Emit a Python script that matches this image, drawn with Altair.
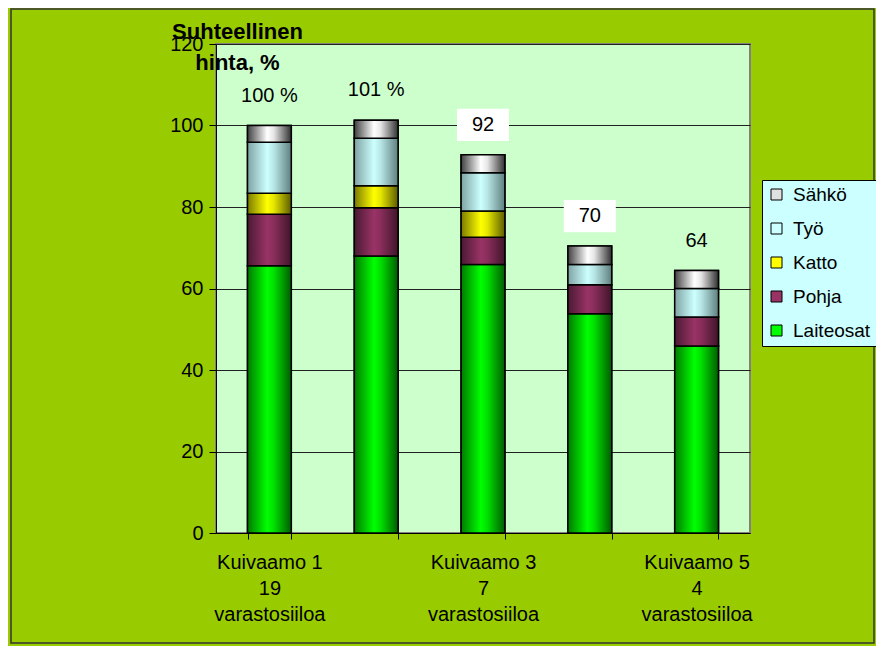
import altair as alt
import pandas as pd

# ---------------- data ----------------
categories = ["Kuivaamo 1", "Kuivaamo 2", "Kuivaamo 3", "Kuivaamo 4", "Kuivaamo 5"]
silo_counts = ["19", "", "7", "", "4"]
shown_labels = [True, False, True, False, True]
series = ["Laiteosat", "Pohja", "Katto", "Työ", "Sähkö"]
laiteosat = [65.6, 68.0, 65.9, 53.8, 45.9]
pohja = [12.6, 11.8, 6.7, 7.1, 7.1]
katto = [5.2, 5.4, 6.4, 0.0, 0.0]
tyo = [12.5, 11.7, 9.4, 5.0, 7.0]
sahko = [4.1, 4.4, 4.4, 4.5, 4.4]
total_labels = ["100 %", "101 %", "92", "70", "64"]
boxed = [False, False, True, True, False]
y_ticks = [0, 20, 40, 60, 80, 100, 120]

legend_order = ["Sähkö", "Työ", "Katto", "Pohja", "Laiteosat"]
flat_colors = {"Laiteosat": "#00ff00", "Pohja": "#993366", "Katto": "#ffff00",
               "Työ": "#ccffff", "Sähkö": "#e0e0e0"}
grad_stops = {
    "Laiteosat": ["#007a00", "#00ff00", "#00e000", "#005c00"],
    "Pohja": ["#4a1a33", "#993366", "#8a2e5c", "#3f1529"],
    "Katto": ["#7a7a00", "#ffff00", "#e6e600", "#5c5c00"],
    "Työ": ["#7fa3a3", "#ccffff", "#b8e6e6", "#5f7f7f"],
    "Sähkö": ["#404040", "#ffffff", "#e6e6e6", "#303030"],
}

values_by_series = {"Laiteosat": laiteosat, "Pohja": pohja, "Katto": katto,
                    "Työ": tyo, "Sähkö": sahko}

rows = []
for i, c in enumerate(categories):
    for k, s in enumerate(series):
        rows.append({"cat": c, "series": s, "ord": k, "value": values_by_series[s][i]})
df = pd.DataFrame(rows)

tot_df = pd.DataFrame({
    "cat": categories,
    "total": [sum(v[i] for v in values_by_series.values()) for i in range(len(categories))],
    "label": total_labels,
    "boxed": boxed,
})

FONT = "Liberation Sans"

# x-axis label expression (multi-line, only some categories labelled)
expr = "''"
for c, n, show in reversed(list(zip(categories, silo_counts, shown_labels))):
    if show:
        expr = f"datum.value == '{c}' ? ['{c}', '{n}', 'varastosiiloa'] : {expr}"

x_enc = alt.X(
    "cat:N", sort=categories,
    scale=alt.Scale(domain=categories, paddingInner=0.59, paddingOuter=0.295),
    axis=alt.Axis(title=None, labelExpr=expr, labelAngle=0, labelFont=FONT,
                  labelFontSize=20, labelLineHeight=26, labelColor="black",
                  labelPadding=13, tickBand="extent", tickSize=6,
                  tickColor="black", domainColor="black", labelBaseline="top"),
)

y_scale = alt.Scale(domain=[0, 120], nice=False)
y_axis = alt.Axis(
    values=y_ticks, title=["Suhteellinen", "hinta, %"], titleAngle=0,
    titleAlign="center", titleBaseline="alphabetic", titleX=21, titleY=-6,
    titleFont=FONT, titleFontSize=22, titleFontWeight="bold", titleColor="black",
    titleLineHeight=31, labelFont=FONT, labelFontSize=20, labelColor="black",
    labelPadding=6, tickSize=7, tickColor="black", domainColor="black",
    grid=True, gridColor="#202020", gridWidth=1,
)

base = alt.Chart(df).transform_filter(alt.datum.value > 0)

legend_layer = base.mark_bar(stroke="black", strokeWidth=1.5).encode(
    x=x_enc,
    y=alt.Y("value:Q", stack="zero", scale=y_scale, axis=y_axis),
    color=alt.Color(
        "series:N",
        scale=alt.Scale(domain=legend_order, range=[flat_colors[s] for s in legend_order]),
        legend=alt.Legend(
            title=None, orient="none", legendX=546, legendY=136,
            fillColor="#ccffff", strokeColor="black", padding=5,
            symbolType="square", symbolSize=121, symbolStrokeColor="black",
            symbolStrokeWidth=1, symbolOpacity=1, labelFont=FONT,
            labelFontSize=19, labelColor="black", rowPadding=14,
            labelOffset=7,
        ),
    ),
    order=alt.Order("ord:Q"),
)

stacked = base.transform_stack(
    stack="value", groupby=["cat"], as_=["y0", "y1"],
    sort=[alt.SortField("ord", order="ascending")],
)

layers = [legend_layer]
for s in series:
    st = grad_stops[s]
    grad = alt.Gradient(
        gradient="linear",
        stops=[alt.GradientStop(color=st[0], offset=0),
               alt.GradientStop(color=st[1], offset=0.45),
               alt.GradientStop(color=st[2], offset=0.6),
               alt.GradientStop(color=st[3], offset=1)],
        x1=0, x2=1, y1=0, y2=0,
    )
    layers.append(
        stacked.transform_filter(alt.datum.series == s)
        .mark_bar(fill=grad, stroke="black", strokeWidth=1.5)
        .encode(x=x_enc, y=alt.Y("y0:Q", scale=y_scale, axis=y_axis), y2="y1:Q")
    )

tot = alt.Chart(tot_df)
boxes = tot.transform_filter(alt.datum.boxed).mark_point(
    shape="M-1,-0.62L1,-0.62L1,0.62L-1,0.62Z", filled=True, fill="white",
    strokeWidth=0, opacity=1, size=52 * 52, yOffset=-30,
).encode(x=x_enc, y=alt.Y("total:Q", scale=y_scale, axis=y_axis))

texts = tot.mark_text(
    font=FONT, fontSize=20, color="black", baseline="middle", dy=-30,
).encode(x=x_enc, y=alt.Y("total:Q", scale=y_scale, axis=y_axis), text="label:N")

frame = alt.Chart(alt.Data(values=[{"a": 1}])).mark_rect(
    fill=None, stroke="#333333", strokeWidth=1.5, clip=False,
).encode(x=alt.value(-205), x2=alt.value(534 + 124),
         y=alt.value(-35), y2=alt.value(489 + 110))

chart = alt.layer(*layers, boxes, texts, frame).properties(
    width=534, height=489,
    padding={"left": 208, "top": 36, "right": 126, "bottom": 113},
    autosize=alt.AutoSizeParams(type="none"),
    background="#99cc00",
).configure_view(fill="#ccffcc", stroke="#808080", strokeWidth=2)

chart.save("out.html", embed_options={"renderer": "svg", "actions": False})
